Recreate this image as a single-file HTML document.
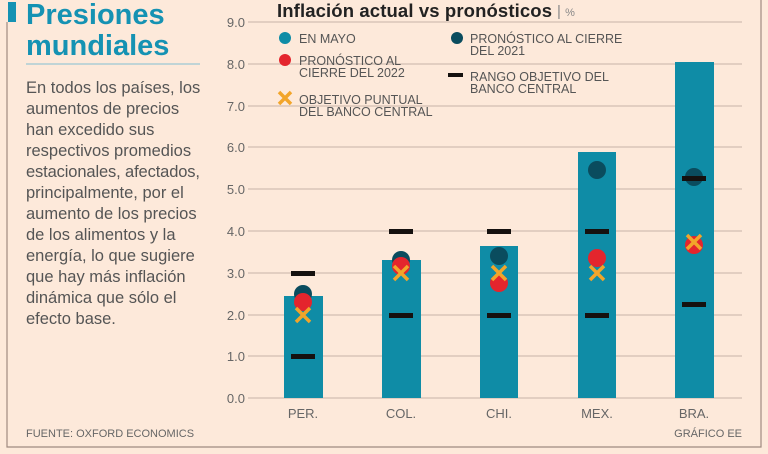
<!DOCTYPE html>
<html><head><meta charset="utf-8"><style>
html,body{margin:0;padding:0;background:#fde9da;}
svg{display:block;font-family:"Liberation Sans",sans-serif;}
</style></head><body>
<svg width="768" height="454" viewBox="0 0 768 454">
<rect width="768" height="454" fill="#fde9da"/>
<path d="M7 22 V447 H761 V0" fill="none" stroke="#a08a80" stroke-width="1.2"/>
<rect x="8" y="2" width="8" height="20" fill="#1592b3"/>
<text x="26" y="24" font-size="29" font-weight="bold" fill="#1592b3">Presiones</text>
<text x="26" y="55" font-size="29" font-weight="bold" fill="#1592b3">mundiales</text>
<line x1="26" y1="64" x2="200" y2="64" stroke="#9cc8d3" stroke-width="1.2"/>
<g font-size="16.5" fill="#555">
<text x="26" y="93">En todos los países, los</text>
<text x="26" y="114">aumentos de precios</text>
<text x="26" y="135">han excedido sus</text>
<text x="26" y="156">respectivos promedios</text>
<text x="26" y="177" textLength="174">estacionales, afectados,</text>
<text x="26" y="198">principalmente, por el</text>
<text x="26" y="219">aumento de los precios</text>
<text x="26" y="240">de los alimentos y la</text>
<text x="26" y="261">energía, lo que sugiere</text>
<text x="26" y="282">que hay más inflación</text>
<text x="26" y="303">dinámica que sólo el</text>
<text x="26" y="324">efecto base.</text>
</g>
<text x="26" y="437" font-size="11" fill="#666">FUENTE: OXFORD ECONOMICS</text>
<text x="742" y="437" font-size="11" fill="#666" text-anchor="end">GRÁFICO EE</text>
<text x="277" y="17" font-size="18.5" font-weight="bold" fill="#222" textLength="275">Inflación actual vs pronósticos</text>
<text x="557" y="16" font-size="15" fill="#888">| <tspan font-size="11">%</tspan></text>
<g stroke="#c8b4a8" stroke-width="1">
<line x1="248" y1="22" x2="742" y2="22"/><line x1="248" y1="64" x2="742" y2="64"/>
<line x1="248" y1="106" x2="742" y2="106"/><line x1="248" y1="147" x2="742" y2="147"/>
<line x1="248" y1="189" x2="742" y2="189"/><line x1="248" y1="231" x2="742" y2="231"/>
<line x1="248" y1="273" x2="742" y2="273"/><line x1="248" y1="315" x2="742" y2="315"/>
<line x1="248" y1="356" x2="742" y2="356"/><line x1="248" y1="398" x2="742" y2="398"/>
</g>
<g font-size="13" fill="#666" text-anchor="end">
<text x="245" y="27">9.0</text><text x="245" y="69">8.0</text><text x="245" y="111">7.0</text>
<text x="245" y="152">6.0</text><text x="245" y="194">5.0</text><text x="245" y="236">4.0</text>
<text x="245" y="278">3.0</text><text x="245" y="320">2.0</text><text x="245" y="361">1.0</text>
<text x="245" y="403">0.0</text>
</g>
<g font-size="13" fill="#666" text-anchor="middle">
<text x="303" y="418">PER.</text><text x="401" y="418">COL.</text><text x="499" y="418">CHI.</text>
<text x="597" y="418">MEX.</text><text x="694" y="418">BRA.</text>
</g>
<g fill="#0f8ca6">
<rect x="284" y="296" width="39" height="102"/><rect x="382" y="260" width="39" height="138"/>
<rect x="480" y="246" width="38" height="152"/><rect x="578" y="152" width="38" height="246"/>
<rect x="675" y="62" width="39" height="336"/>
</g>
<g fill="#0a4c5e">
<circle cx="303" cy="294" r="9"/><circle cx="401" cy="260" r="9"/><circle cx="499" cy="256" r="9"/>
<circle cx="597" cy="170" r="9"/><circle cx="694" cy="177" r="9"/>
</g>
<g fill="#e4252d">
<circle cx="303" cy="302" r="9"/><circle cx="401" cy="266" r="9"/><circle cx="499" cy="283" r="9"/>
<circle cx="597" cy="258" r="9"/><circle cx="694" cy="245" r="9"/>
</g>
<g stroke="#f2a52a" stroke-width="3.5">
<path d="M296 308 L310 322 M310 308 L296 322"/>
<path d="M394 266 L408 280 M408 266 L394 280"/>
<path d="M492 266 L506 280 M506 266 L492 280"/>
<path d="M590 266 L604 280 M604 266 L590 280"/>
<path d="M687 235 L701 249 M701 235 L687 249"/>
</g>
<g fill="#15110f">
<rect x="291" y="271" width="24" height="5"/><rect x="291" y="354" width="24" height="5"/>
<rect x="389" y="229" width="24" height="5"/><rect x="389" y="313" width="24" height="5"/>
<rect x="487" y="229" width="24" height="5"/><rect x="487" y="313" width="24" height="5"/>
<rect x="585" y="229" width="24" height="5"/><rect x="585" y="313" width="24" height="5"/>
<rect x="682" y="176" width="24" height="5"/><rect x="682" y="302" width="24" height="5"/>
</g>
<circle cx="285" cy="38" r="6" fill="#0f8ca6"/>
<circle cx="285" cy="60" r="6" fill="#e4252d"/>
<path d="M279 92 L291 104 M291 92 L279 104" stroke="#f2a52a" stroke-width="3.5"/>
<circle cx="457" cy="38" r="6" fill="#0a4c5e"/>
<rect x="448" y="73" width="15" height="4" fill="#15110f"/>
<g font-size="12.5" fill="#555">
<text x="299" y="43">EN MAYO</text>
<text x="299" y="65">PRONÓSTICO AL</text><text x="299" y="77">CIERRE DEL 2022</text>
<text x="299" y="104">OBJETIVO PUNTUAL</text><text x="299" y="116">DEL BANCO CENTRAL</text>
<text x="470" y="43">PRONÓSTICO AL CIERRE</text><text x="470" y="55">DEL 2021</text>
<text x="470" y="81">RANGO OBJETIVO DEL</text><text x="470" y="93">BANCO CENTRAL</text>
</g>
</svg>
</body></html>
